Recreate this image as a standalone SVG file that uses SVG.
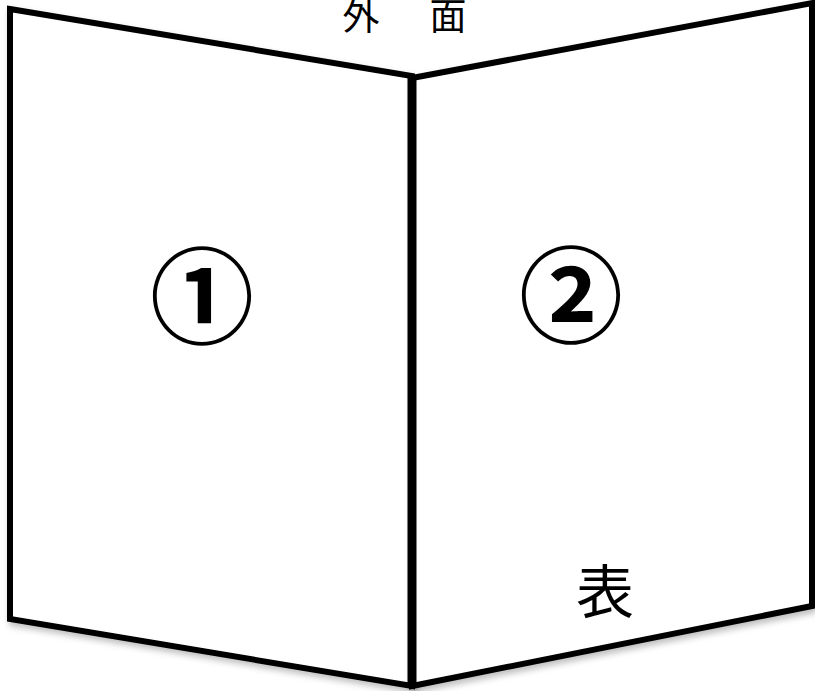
<svg xmlns="http://www.w3.org/2000/svg" width="815" height="691" viewBox="0 0 815 691">
<style>
.panel{fill:#fff;stroke:#000;stroke-width:6;stroke-linejoin:miter}
.spine{stroke:#000;stroke-width:9;fill:none}
.lbl{font-family:"Noto Sans CJK JP","Noto Sans",sans-serif;fill:#000}
.num{font-family:"Noto Sans CJK JP","Liberation Sans",sans-serif;font-size:104px;font-weight:bold;text-anchor:middle;fill:#000}
</style>
<defs>
<filter id="sh" x="-5%" y="-5%" width="110%" height="110%">
<feDropShadow dx="2" dy="4" stdDeviation="3" flood-color="#000" flood-opacity="0.25"/>
</filter>
</defs>
<rect width="815" height="691" fill="#fff"/>
<g id="panel1">
<polygon class="panel" filter="url(#sh)" points="10,9 412,76 412,686 10,619"/>
<text class="num" x="202" y="336">①</text>
</g>
<g id="panel2">
<polygon class="panel" filter="url(#sh)" points="412,78 812,3 812,606 412,686"/>
<text class="num" x="571" y="335">②</text>
<text class="lbl" x="605" y="613" font-size="58" text-anchor="middle">表</text>
</g>
<g id="connectors">
<line class="spine" x1="412" y1="76" x2="412" y2="686"/>
</g>
<g id="title">
<text class="lbl" x="361" y="30" font-size="37" text-anchor="middle">外</text>
<text class="lbl" x="448" y="30" font-size="37" text-anchor="middle">面</text>
</g>
</svg>
